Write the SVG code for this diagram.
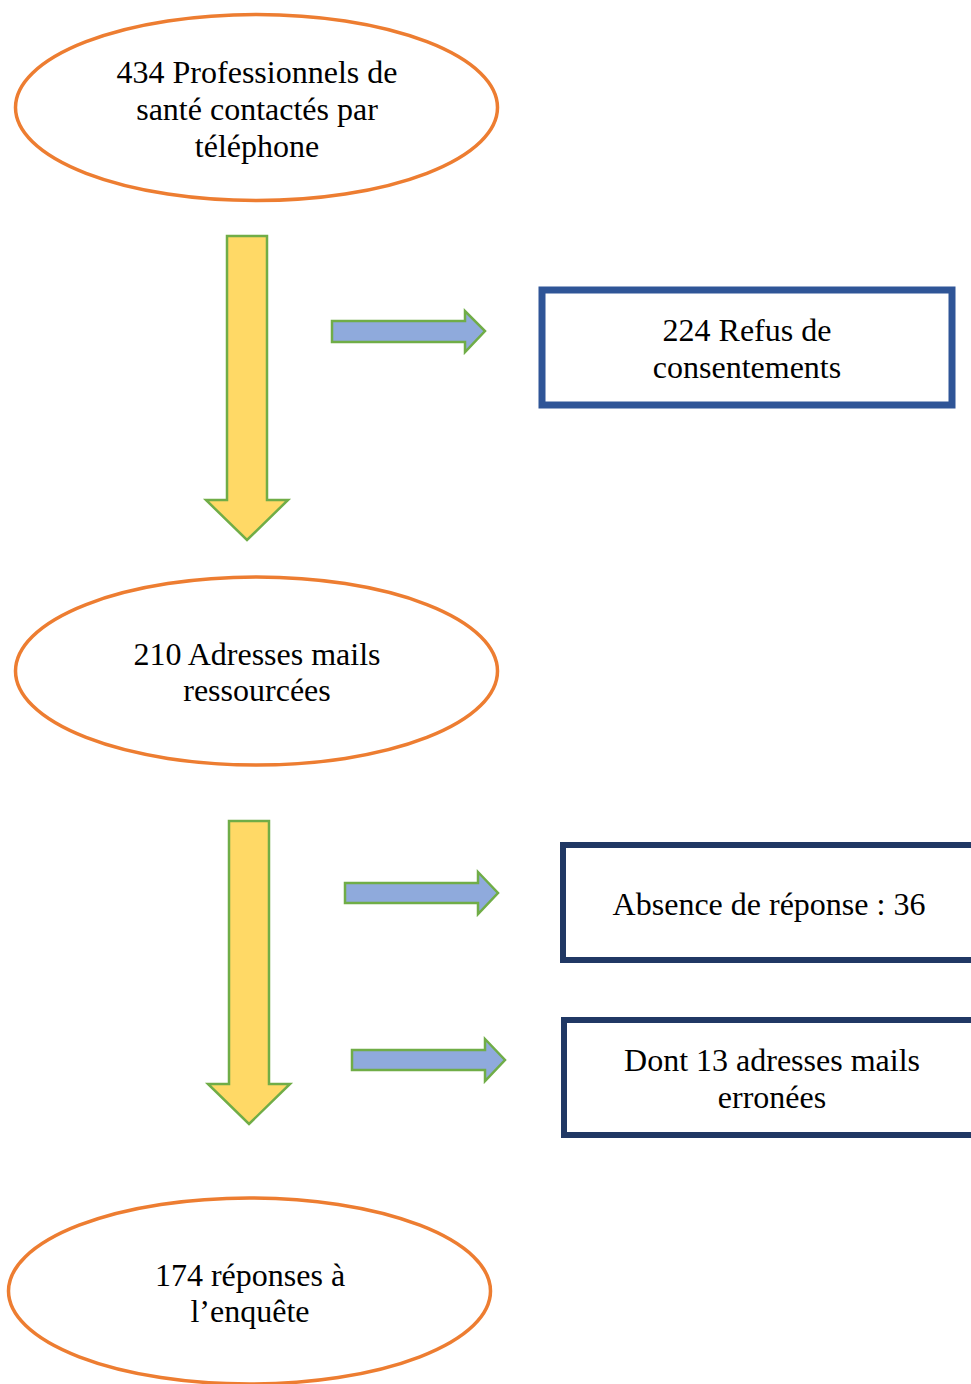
<svg xmlns="http://www.w3.org/2000/svg" width="971" height="1384" viewBox="0 0 971 1384">
<style>
.ell{fill:#fff;stroke:#ED7D31;stroke-width:3.5}
.box1{fill:#fff;stroke:#2F5597;stroke-width:7}
.box2{fill:#fff;stroke:#203864;stroke-width:6}
.down{fill:#FFD966;stroke:#70AD47;stroke-width:2.5}
.right{fill:#8FAADC;stroke:#70AD47;stroke-width:2.5}
text{font-family:"Liberation Serif","Times New Roman",serif;font-size:32px;fill:#000;text-anchor:middle}
</style>
<rect width="971" height="1384" fill="#fff"/>
<g id="connectors">
<polygon class="down" points="227,236 267,236 267,500 288,500 247,540 206,500 227,500"/>
<polygon class="right" points="332,321 465,321 465,311 485,331 465,352 465,342 332,342"/>
<polygon class="down" points="229,821 269,821 269,1084 290,1084 249,1124 208,1084 229,1084"/>
<polygon class="right" points="345,883 478,883 478,872 498,893 478,914 478,903 345,903"/>
<polygon class="right" points="352,1050 485,1050 485,1039 505,1060 485,1081 485,1070 352,1070"/>
</g>
<g id="node1">
<ellipse class="ell" cx="256.5" cy="107.5" rx="241" ry="93"/>
<text x="257" y="83">434 Professionnels de</text>
<text x="257" y="120">santé contactés par</text>
<text x="257" y="157">téléphone</text>
</g>
<g id="node2">
<rect class="box1" x="542" y="290" width="410" height="115"/>
<text x="747" y="341">224 Refus de</text>
<text x="747" y="378">consentements</text>
</g>
<g id="node3">
<ellipse class="ell" cx="256.5" cy="671" rx="241" ry="94"/>
<text x="257" y="665">210 Adresses mails</text>
<text x="257" y="701">ressourcées</text>
</g>
<g id="node4">
<rect class="box2" x="563" y="845" width="420" height="115"/>
<text x="769" y="915">Absence de réponse : 36</text>
</g>
<g id="node5">
<rect class="box2" x="564" y="1020" width="420" height="115"/>
<text x="772" y="1071">Dont 13 adresses mails</text>
<text x="772" y="1108">erronées</text>
</g>
<g id="node6">
<ellipse class="ell" cx="249.5" cy="1291" rx="241" ry="93"/>
<text x="250" y="1286">174 réponses à</text>
<text x="250" y="1322">l’enquête</text>
</g>
</svg>
